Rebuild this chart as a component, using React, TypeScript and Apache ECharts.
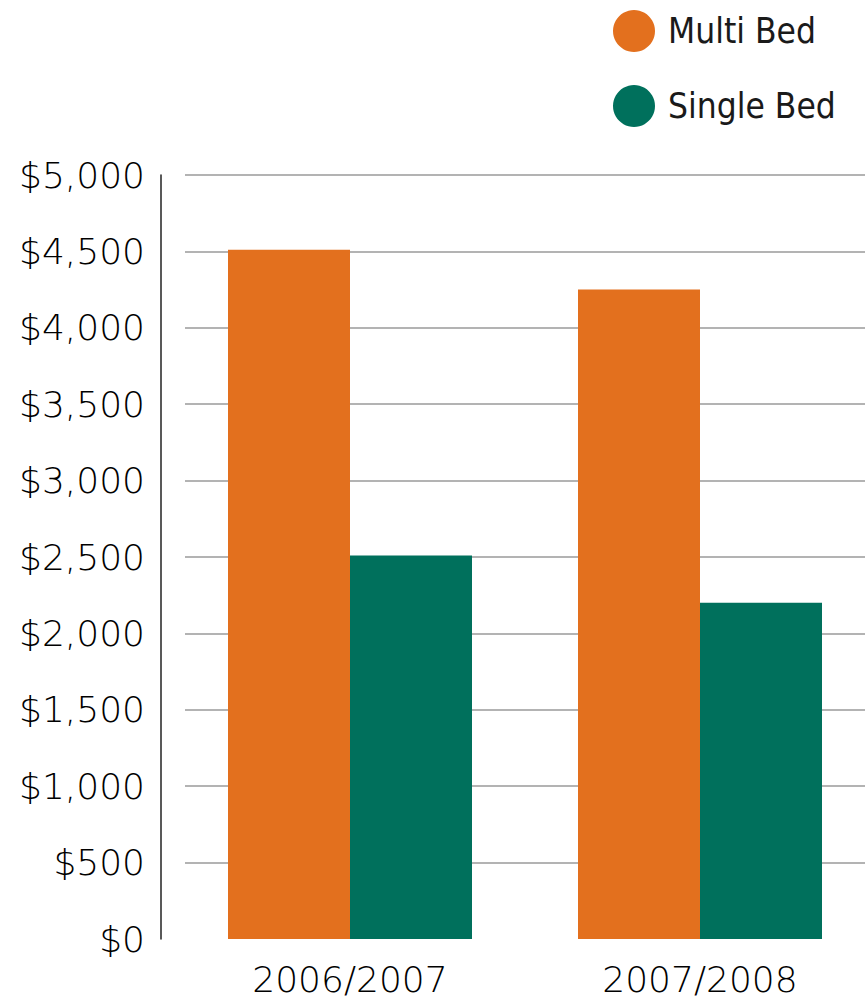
import React, { useEffect, useRef } from "react";
import * as echarts from "echarts";

const categories = ["2006/2007", "2007/2008"];
const multiBed = [4510, 4250];
const singleBed = [2510, 2200];
const seriesNames = ["Multi Bed", "Single Bed"];
const yMin = 0;
const yMax = 5000;
const yInterval = 500;

const ORANGE = "#E3701E";
const TEAL = "#00705C";
const LEGEND_FONT = "'Liberation Sans Narrow', 'DejaVu Sans Condensed', 'Liberation Sans', sans-serif";
const LABEL_FONT = "'DejaVu Sans', 'Liberation Sans', sans-serif";

export default function App() {
  const ref = useRef<HTMLDivElement>(null);
  useEffect(() => {
    if (!ref.current) return;
    const chart = echarts.init(ref.current, null, { renderer: "svg" });
    const fmt = (v: number) => "$" + v.toLocaleString("en-US");
    chart.setOption({
      animation: false,
      backgroundColor: "#fff",
      legend: {
        data: seriesNames,
        orient: "vertical",
        left: 608,
        top: 5,
        icon: "circle",
        itemWidth: 42,
        itemHeight: 42,
        itemGap: 33,
        textStyle: { fontFamily: LEGEND_FONT, fontSize: 35, color: "#1a1a1a", padding: [0, 0, 0, 8] },
      },
      grid: [
        { left: 175, width: 700, top: 175, bottom: 69 },
        { left: 185, width: 680, top: 175, bottom: 69 },
      ],
      xAxis: [
        {
          type: "category",
          gridIndex: 0,
          data: categories,
          axisLine: { show: false },
          axisTick: { show: false },
          axisLabel: { fontFamily: LABEL_FONT, fontWeight: 200, fontSize: 36, color: "#000", margin: 22 },
        },
        {
          type: "category",
          gridIndex: 1,
          data: categories,
          show: false,
        },
      ],
      yAxis: [
        {
          type: "value",
          gridIndex: 0,
          min: yMin,
          max: yMax,
          interval: yInterval,
          offset: 14,
          axisLine: { show: true, lineStyle: { color: "#222", width: 1.5 } },
          axisTick: { show: false },
          splitLine: { show: false },
          axisLabel: { formatter: fmt, fontFamily: LABEL_FONT, fontWeight: 200, fontSize: 36, color: "#000", margin: 16 },
        },
        {
          type: "value",
          gridIndex: 1,
          min: yMin,
          max: yMax,
          interval: yInterval,
          axisLine: { show: false },
          axisTick: { show: false },
          axisLabel: { show: false },
          splitLine: { show: true, showMinLine: false, lineStyle: { color: "#9a9a9a", width: 1.5 } },
        },
      ],
      series: [
        {
          name: seriesNames[0],
          type: "bar",
          xAxisIndex: 0,
          yAxisIndex: 0,
          data: multiBed,
          barWidth: 122,
          barGap: "0%",
          itemStyle: { color: ORANGE },
        },
        {
          name: seriesNames[1],
          type: "bar",
          xAxisIndex: 0,
          yAxisIndex: 0,
          data: singleBed,
          barWidth: 122,
          barGap: "0%",
          itemStyle: { color: TEAL },
        },
      ],
    });
    return () => chart.dispose();
  }, []);
  return (
    <div
      ref={ref}
      style={{ position: "fixed", left: 0, top: 0, width: 885, height: 1008 }}
    />
  );
}
